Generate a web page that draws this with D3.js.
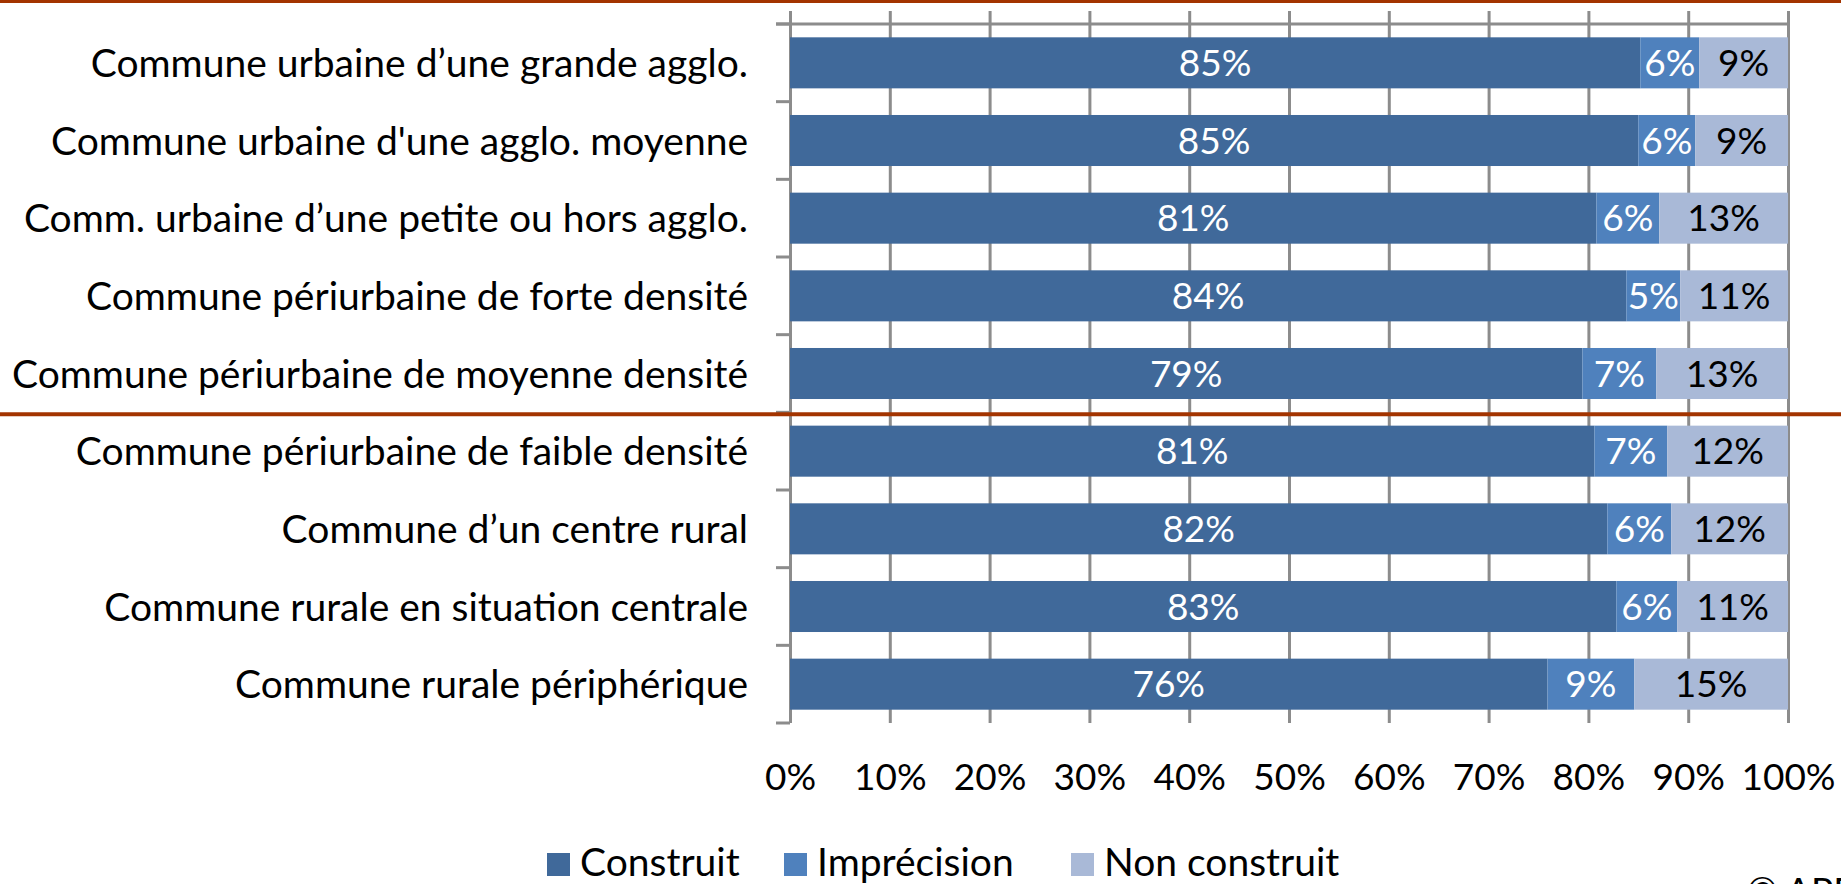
<!DOCTYPE html>
<html>
<head>
<meta charset="utf-8">
<script src="https://cdn.jsdelivr.net/npm/d3@7"></script>
<style>
  html, body { margin: 0; padding: 0; background: #fff; overflow: hidden; }
  svg text { font-family: Lato, "Noto Sans", sans-serif; }
</style>
</head>
<body>
<div class="box"></div>
<script>
// categories and series (percent of each row)
var categories = [
    "Commune urbaine d\u2019une grande agglo.",
    "Commune urbaine d'une agglo. moyenne",
    "Comm. urbaine d\u2019une petite ou hors agglo.",
    "Commune périurbaine de forte densité",
    "Commune périurbaine de moyenne densité",
    "Commune périurbaine de faible densité",
    "Commune d\u2019un centre rural",
    "Commune rurale en situation centrale",
    "Commune rurale périphérique"
];
var construit    = [85.2, 85.0, 80.8, 83.8, 79.4, 80.6, 81.9, 82.8, 75.9];
var imprecision  = [5.9, 5.7, 6.3, 5.4, 7.4, 7.3, 6.4, 6.1, 8.7];
var nonConstruit = [8.9, 9.3, 12.9, 10.8, 13.2, 12.1, 11.7, 11.1, 15.4];
var seriesNames  = ["Construit", "Imprécision", "Non construit"];
var xTicks = [0, 10, 20, 30, 40, 50, 60, 70, 80, 90, 100];
var labels = [[85, 6, 9], [85, 6, 9], [81, 6, 13], [84, 5, 11], [79, 7, 13],
              [81, 7, 12], [82, 6, 12], [83, 6, 11], [76, 9, 15]];

var width = 1841, height = 884;
var colors = ["#40699a", "#4f81bd", "#a9b9d7"];
var textColors = ["#ffffff", "#ffffff", "#000000"];
var gridColor = "#8c8c8c";
var redColor = "#a33400";
var fontSize = 37;
var catFontSize = 39;
var legendX = [547, 784, 1071];

var data = categories.map(function (c, i) {
    return { cat: c, Construit: construit[i], "Imprécision": imprecision[i], "Non construit": nonConstruit[i], lab: labels[i] };
});

var plotTop = 24, plotBottom = 723, gridTop = 11;
var x = d3.scaleLinear().domain([0, 100]).range([790, 1788]);
var y = d3.scaleBand().domain(categories).range([plotTop, plotBottom])
    .paddingInner(0.343).paddingOuter(0.1715);

var stacked = d3.stack().keys(seriesNames)(data);

var svg = d3.create("svg")
    .attr("width", width)
    .attr("height", height)
    .attr("viewBox", [0, 0, width, height]);
document.querySelector(".box").appendChild(svg.node());

// vertical gridlines + value labels
var xAxis = svg.append("g")
    .attr("transform", `translate(0,${plotBottom})`)
    .call(d3.axisBottom(x).tickValues(xTicks).tickSize(-(plotBottom - gridTop)).tickPadding(41)
        .tickFormat(d => d + "%"));
xAxis.select(".domain").remove();
xAxis.selectAll("line").attr("stroke", gridColor).attr("stroke-width", 3);
xAxis.selectAll("text").attr("font-size", fontSize).attr("fill", "#000");

// category axis: boundary ticks, top line
var step = y.step();
var bounds = d3.range(categories.length + 1).map(k => plotTop + k * step);
svg.append("g")
    .selectAll("line")
    .data(bounds)
    .join("line")
    .attr("x1", x(0) - 14)
    .attr("x2", x(0))
    .attr("y1", d => d)
    .attr("y2", d => d)
    .attr("stroke", gridColor)
    .attr("stroke-width", 3);
svg.append("line")
    .attr("x1", x(0) - 14).attr("x2", x(100))
    .attr("y1", plotTop).attr("y2", plotTop)
    .attr("stroke", gridColor).attr("stroke-width", 3);

// bars
var layers = svg.append("g")
    .selectAll("g")
    .data(stacked)
    .join("g")
    .attr("fill", (d, i) => colors[i]);

layers.selectAll("rect")
    .data(d => d)
    .join("rect")
    .attr("x", d => x(d[0]))
    .attr("width", d => x(d[1]) - x(d[0]))
    .attr("y", d => y(d.data.cat))
    .attr("height", y.bandwidth());

layers.each(function (layer, li) {
    d3.select(this).selectAll("text")
        .data(layer)
        .join("text")
        .attr("x", d => (x(d[0]) + x(d[1])) / 2)
        .attr("y", d => y(d.data.cat) + y.bandwidth() / 2)
        .attr("dy", "0.36em")
        .attr("text-anchor", "middle")
        .attr("font-size", fontSize)
        .attr("fill", textColors[li])
        .text(d => d.data.lab[li] + "%");
});

// category labels
svg.append("g")
    .selectAll("text")
    .data(categories)
    .join("text")
    .attr("x", 748)
    .attr("y", d => y(d) + y.bandwidth() / 2)
    .attr("dy", "0.36em")
    .attr("text-anchor", "end")
    .attr("font-size", catFontSize)
    .attr("fill", "#000")
    .text(d => d);

// red separator lines
svg.append("line")
    .attr("x1", 0).attr("x2", width)
    .attr("y1", 1.5).attr("y2", 1.5)
    .attr("stroke", redColor).attr("stroke-width", 3);
svg.append("line")
    .attr("x1", 0).attr("x2", width)
    .attr("y1", bounds[5] + 2).attr("y2", bounds[5] + 2)
    .attr("stroke", redColor).attr("stroke-width", 4);

// legend
var legend = svg.append("g")
    .selectAll("g")
    .data(seriesNames)
    .join("g")
    .attr("transform", (d, i) => `translate(${legendX[i]},0)`);
legend.append("rect")
    .attr("y", 853)
    .attr("width", 23).attr("height", 23)
    .attr("fill", (d, i) => colors[i]);
legend.append("text")
    .attr("x", 33).attr("y", 876)
    .attr("font-size", catFontSize)
    .attr("fill", "#000")
    .text(d => d);

svg.append("text")
    .attr("x", 1747).attr("y", 904)
    .attr("font-size", fontSize)
    .attr("fill", "#000")
    .text("© APE");
</script>
</body>
</html>
